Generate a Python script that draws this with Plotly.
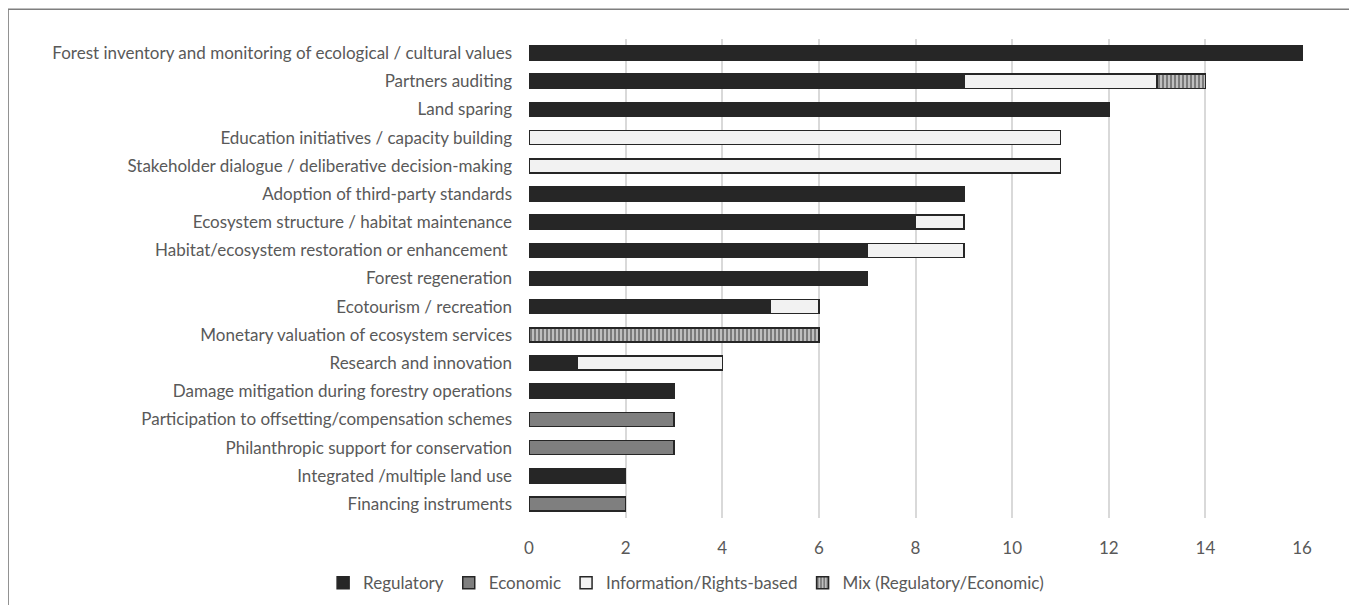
import plotly.graph_objects as go

categories = [
    "Forest inventory and monitoring of ecological / cultural values",
    "Partners auditing",
    "Land sparing",
    "Education initiatives / capacity building",
    "Stakeholder dialogue / deliberative decision-making",
    "Adoption of third-party standards",
    "Ecosystem structure / habitat maintenance",
    "Habitat/ecosystem restoration or enhancement ",
    "Forest regeneration",
    "Ecotourism / recreation",
    "Monetary valuation of ecosystem services",
    "Research and innovation",
    "Damage mitigation during forestry operations",
    "Participation to offsetting/compensation schemes",
    "Philanthropic support for conservation",
    "Integrated /multiple land use",
    "Financing instruments",
]
regulatory = [16, 9, 12, 0, 0, 9, 8, 7, 7, 5, 0, 1, 3, 0, 0, 2, 0]
economic = [0, 0, 0, 0, 0, 0, 0, 0, 0, 0, 0, 0, 0, 3, 3, 0, 2]
information = [0, 4, 0, 11, 11, 0, 1, 2, 0, 1, 0, 3, 0, 0, 0, 0, 0]
mix = [0, 1, 0, 0, 0, 0, 0, 0, 0, 0, 6, 0, 0, 0, 0, 0, 0]
x_ticks = [0, 2, 4, 6, 8, 10, 12, 14, 16]

font_family = "Lato, Carlito, Calibri, 'Open Sans', sans-serif"
text_color = "#595959"

fig = go.Figure()

def add(name, vals, color, line_color, pattern=None):
    fig.add_trace(go.Bar(
        y=categories, x=vals, name=name, orientation="h",
        marker=dict(color=color, line=dict(color=line_color, width=1.5),
                    pattern=pattern if pattern else dict(shape="")),
    ))

add("Regulatory", regulatory, "#262626", "#262626")
add("Economic", economic, "#7f7f7f", "#262626")
add("Information/Rights-based", information, "#f2f2f2", "#262626")
add("Mix (Regulatory/Economic)", mix, "#ffffff", "#262626",
    dict(shape="|", fgcolor="#262626", bgcolor="#bfbfbf", size=4, solidity=0.45))

fig.update_layout(
    barmode="stack",
    bargap=0.5,
    width=1357, height=605,
    margin=dict(l=521, r=62, t=31, b=90),
    plot_bgcolor="white", paper_bgcolor="white",
    font=dict(family=font_family, size=17, color=text_color),
    xaxis=dict(range=[0, 16.02], tickvals=x_ticks, showgrid=True,
               gridcolor="#d9d9d9", gridwidth=1.5, zeroline=False,
               tickfont=dict(size=17, color=text_color), ticks="",
               ticklabelstandoff=18),
    yaxis=dict(autorange="reversed", ticks="", showgrid=False,
               tickfont=dict(size=17, color=text_color), ticklabelstandoff=16),
    legend=dict(orientation="h", x=0.203, xanchor="center", y=-0.136, yanchor="middle",
                font=dict(size=17, color=text_color), traceorder="normal",
                itemwidth=30, tracegroupgap=0),
    shapes=[dict(type="rect", xref="paper", yref="paper",
                 x0=-0.673, x1=1.067, y0=-0.3, y1=1.062,
                 line=dict(color="#7f7f7f", width=1.5), fillcolor="rgba(0,0,0,0)", layer="below")],
)

fig.write_html("out.html")
